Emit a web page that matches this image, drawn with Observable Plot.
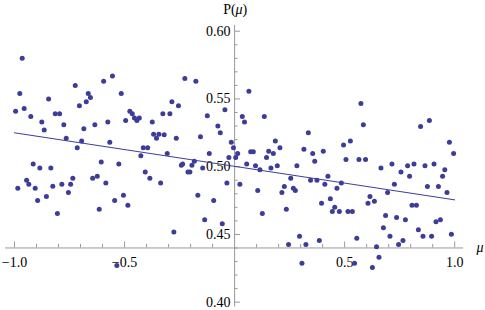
<!DOCTYPE html>
<html><head><meta charset="utf-8">
<script src="https://cdn.jsdelivr.net/npm/d3@7"></script>
<script src="https://cdn.jsdelivr.net/npm/@observablehq/plot@0.6"></script>
<style>body{margin:0;background:#fff}</style>
</head><body><div id="chart"></div>
<script>
const mu = [
-0.965,-0.976,-0.995,-0.956,-0.926,-0.845,-0.876,-0.865,-0.815,-0.795,-0.776,-0.724,-0.705,-0.665,-0.655,-0.674,-0.685,-0.765,-0.715,-0.695,
-0.635,-0.595,-0.555,-0.576,-0.567,-0.515,-0.495,-0.476,-0.465,-0.455,-0.444,-0.433,-0.374,-0.326,-0.368,-0.355,-0.344,-0.320,-0.415,-0.395,
-0.426,-0.406,-0.385,-0.336,-0.915,-0.885,-0.835,-0.945,-0.935,-0.985,-0.906,-0.895,-0.855,-0.826,-0.805,-0.785,-0.755,-0.745,-0.735,-0.645,
-0.624,-0.606,-0.585,-0.615,-0.545,-0.526,-0.505,-0.485,-0.535,
-0.285,-0.255,-0.294,-0.226,-0.176,-0.265,-0.306,-0.242,-0.236,-0.212,-0.203,-0.194,-0.183,-0.155,-0.145,-0.124,-0.115,-0.167,-0.136,-0.095,
-0.276,-0.076,-0.065,-0.044,-0.015,-0.005,-0.026,0.005,0.014,-0.035,-0.056,0.065,0.035,0.045,0.135,0.024,0.055,0.073,0.085,0.095,
0.115,0.105,0.126,0.145,0.155,0.165,0.176,0.185,0.206,0.194,0.255,0.226,0.215,0.267,0.276,0.235,0.283,0.315,0.335,0.355,
0.364,0.345,0.374,0.403,0.410,0.395,0.245,0.295,0.324,0.385,0.306,
0.424,0.435,0.444,0.455,0.465,0.476,0.485,0.495,0.506,0.515,0.526,0.535,0.555,0.545,0.565,0.574,0.585,0.595,0.615,0.606,
0.635,0.645,0.656,0.626,0.665,0.676,0.686,0.695,0.706,0.715,0.726,0.736,0.745,0.756,0.765,0.776,0.786,0.795,0.806,0.815,
0.826,0.835,0.845,0.856,0.865,0.876,0.885,0.895,0.906,0.915,0.926,0.935,0.945,0.955,0.965,0.976,0.985,0.995
];
const P = [
0.580,0.554,0.541,0.543,0.537,0.550,0.533,0.527,0.539,0.539,0.531,0.560,0.545,0.554,0.551,0.548,0.528,0.521,0.514,0.519,
0.531,0.563,0.567,0.533,0.518,0.554,0.534,0.541,0.539,0.536,0.534,0.536,0.533,0.539,0.524,0.521,0.524,0.5235,0.514,0.514,
0.508,0.496,0.4915,0.488,0.502,0.499,0.499,0.490,0.487,0.484,0.484,0.475,0.478,0.4855,0.4655,0.487,0.481,0.487,0.4915,0.4915,
0.493,0.5035,0.488,0.4686,0.475,0.502,0.479,0.4716,0.427,
0.548,0.545,0.539,0.565,0.563,0.521,0.5097,0.501,0.502,0.496,0.496,0.501,0.504,0.522,0.499,0.5376,0.5097,0.479,0.4608,0.475,
0.4517,0.530,0.525,0.542,0.518,0.514,0.5068,0.5068,0.5097,0.488,0.4579,0.5557,0.537,0.533,0.537,0.487,0.502,0.511,0.511,0.5007,
0.4977,0.4824,0.4655,0.5068,0.5114,0.499,0.5097,0.519,0.514,0.5007,0.4915,0.4854,0.481,0.484,0.4824,0.4686,0.5007,0.5129,0.525,0.5097,
0.504,0.490,0.490,0.5114,0.487,0.473,0.4426,0.4487,0.4426,0.4455,0.4288,
0.493,0.4763,0.4669,0.470,0.484,0.4669,0.488,0.516,0.5053,0.4669,0.519,0.4669,0.4472,0.4288,0.5053,0.5466,0.531,0.5053,0.478,0.473,
0.4745,0.4409,0.4332,0.4256,0.499,0.4549,0.464,0.481,0.4487,0.502,0.487,0.4625,0.4426,0.496,0.4455,0.4608,0.5007,0.493,0.4716,0.502,
0.4716,0.4534,0.5297,0.4487,0.5007,0.4854,0.534,0.4487,0.502,0.4593,0.4854,0.4608,0.493,0.4977,0.481,0.518,0.4502,0.5097
];
const fitMu = [-1, 1];
const fitP = [0.525, 0.4755];
const xMajor = [-1, -0.5, 0.5, 1];
const xTickLabels = ["\u22121.0", "\u22120.5", "0.5", "1.0"];
const xMinor = [-0.9,-0.8,-0.7,-0.6,-0.4,-0.3,-0.2,-0.1,0.1,0.2,0.3,0.4,0.6,0.7,0.8,0.9];
const yMajor = [0.40, 0.45, 0.50, 0.55, 0.60];
const yTickLabels = ["0.40", "0.45", "0.50", "0.55", "0.60"];
const yMinor = [0.41,0.42,0.43,0.44,0.46,0.47,0.48,0.49,0.51,0.52,0.53,0.54,0.56,0.57,0.58,0.59];
const xAxisAt = 0.44;
const xDomain = [-1.0409, 1.04];
const yDomain = [0.3965, 0.6042];

const col = "#3d3d99";
const axisCol = "#999";
const font = "'Liberation Serif', 'Times New Roman', serif";
const data = mu.map((m, i) => ({mu: m, p: P[i]}));
const fit = fitMu.map((m, i) => ({mu: m, p: fitP[i]}));

const chart = Plot.plot({
  width: 485, height: 310,
  marginLeft: 5, marginRight: 22, marginTop: 25, marginBottom: 3.6,
  x: {domain: xDomain, axis: null},
  y: {domain: yDomain, axis: null},
  style: {background: "#fff"},
  marks: [
    Plot.ruleX([0], {stroke: axisCol, strokeWidth: 1}),
    Plot.ruleY([xAxisAt], {stroke: axisCol, strokeWidth: 1}),
    Plot.ruleX(xMajor, {x: d => d, y1: () => xAxisAt, y2: () => xAxisAt, insetBottom: 6, stroke: axisCol}),
    Plot.ruleX(xMinor, {x: d => d, y1: () => xAxisAt, y2: () => xAxisAt, insetBottom: 3.5, stroke: axisCol}),
    Plot.ruleY(yMajor, {y: d => d, x1: () => 0, x2: () => 0, insetLeft: 6, stroke: axisCol}),
    Plot.ruleY(yMinor, {y: d => d, x1: () => 0, x2: () => 0, insetLeft: 3.5, stroke: axisCol}),
    Plot.text(xMajor, {x: d => d, y: () => xAxisAt, text: (d, i) => xTickLabels[i], dy: 15, lineAnchor: "middle", fontFamily: font, fontSize: 14, fill: "#000"}),
    Plot.text(yMajor, {x: () => 0, y: d => d, text: (d, i) => yTickLabels[i], dx: -4, textAnchor: "end", lineAnchor: "middle", fontFamily: font, fontSize: 14, fill: "#000"}),
    Plot.text(["\u03bc"], {x: () => xDomain[1], y: () => xAxisAt, text: d => d, dx: 13, textAnchor: "start", lineAnchor: "middle", fontStyle: "italic", fontFamily: font, fontSize: 14, fill: "#000"}),
    Plot.text(["P("], {x: () => 0, y: () => yDomain[1], text: d => d, dx: 1, dy: -12, textAnchor: "end", lineAnchor: "bottom", fontFamily: font, fontSize: 14, fill: "#000"}),
    Plot.text(["\u03bc"], {x: () => 0, y: () => yDomain[1], text: d => d, dx: 1, dy: -12, textAnchor: "start", lineAnchor: "bottom", fontStyle: "italic", fontFamily: font, fontSize: 14, fill: "#000"}),
    Plot.text([")"], {x: () => 0, y: () => yDomain[1], text: d => d, dx: 8, dy: -12, textAnchor: "start", lineAnchor: "bottom", fontFamily: font, fontSize: 14, fill: "#000"}),
    Plot.dot(data, {x: "mu", y: "p", r: 2.5, fill: col, stroke: "none"}),
    Plot.line(fit, {x: "mu", y: "p", stroke: col, strokeWidth: 1})
  ]
});
document.getElementById("chart").appendChild(chart);
</script>
</body></html>
